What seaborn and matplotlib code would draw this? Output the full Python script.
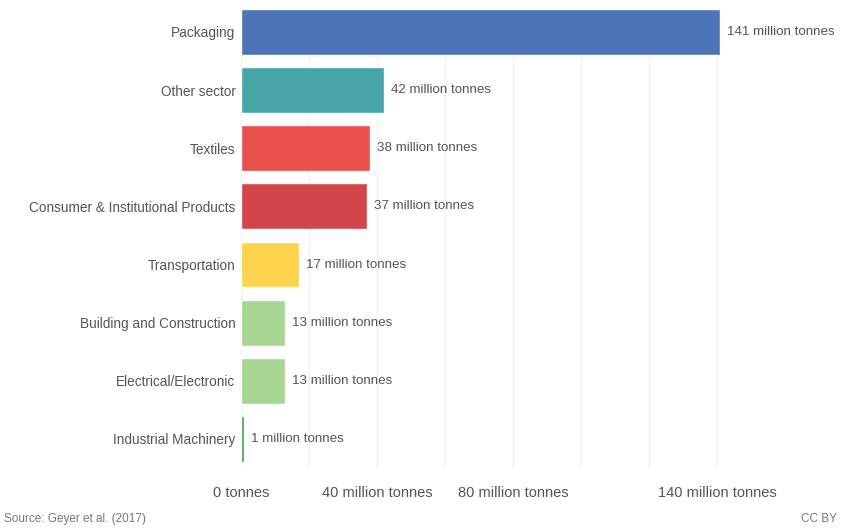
import matplotlib
matplotlib.use("Agg")
import matplotlib.pyplot as plt
import seaborn as sns
import pandas as pd

categories = ["Packaging", "Other sector", "Textiles", "Consumer & Institutional Products",
              "Transportation", "Building and Construction", "Electrical/Electronic",
              "Industrial Machinery"]
values = [141, 42, 38, 37, 17, 13, 13, 1]
value_labels = ["141 million tonnes", "42 million tonnes", "38 million tonnes", "37 million tonnes",
                "17 million tonnes", "13 million tonnes", "13 million tonnes", "1 million tonnes"]
colors = ["#4e74b8", "#48a5a6", "#e8514a", "#d1454b", "#fdd44c", "#a7d692", "#a7d692", "#3d9b4d"]
grid_ticks = [0, 20, 40, 60, 80, 100, 120, 140]
tick_labels = ["0 tonnes", "", "40 million tonnes", "", "80 million tonnes", "", "", "140 million tonnes"]

df = pd.DataFrame({"sector": categories, "value": values})

sns.set_theme(style="white")
plt.rcParams["font.family"] = ["Liberation Sans", "DejaVu Sans"]

fig = plt.figure(figsize=(8.41, 5.28), dpi=100)
ax = fig.add_axes([241 / 841, 60 / 528, 544 / 841, 459 / 528])

sns.barplot(data=df, x="value", y="sector", hue="sector", palette=colors, legend=False,
            width=0.79, saturation=1, ax=ax, orient="h")

for cont, lab in zip(ax.containers, value_labels):
    ax.bar_label(cont, labels=[lab], padding=5, fontsize=9.6, color="#555555")

ax.set_xlim(0, 160)
ax.set_ylim(7.5, -0.395)
ax.set_xticks(grid_ticks)
ax.set_xticklabels(tick_labels, fontsize=10.5, color="#555555")
ax.tick_params(axis="x", length=0, pad=13)
ax.tick_params(axis="y", length=0, pad=4, labelsize=9.8, labelcolor="#555555")
ax.xaxis.grid(True, color="#f2f2f2", linewidth=1)
ax.set_axisbelow(True)
for s in ax.spines.values():
    s.set_visible(False)
ax.set_xlabel("")
ax.set_ylabel("")

fig.text(4 / 841, 1 - 519 / 528, "Source: Geyer et al. (2017)", fontsize=8.5, color="#777777", va="center", ha="left")
fig.text(837 / 841, 1 - 519 / 528, "CC BY", fontsize=8.5, color="#777777", va="center", ha="right")

fig.savefig("out.png", dpi=100)
